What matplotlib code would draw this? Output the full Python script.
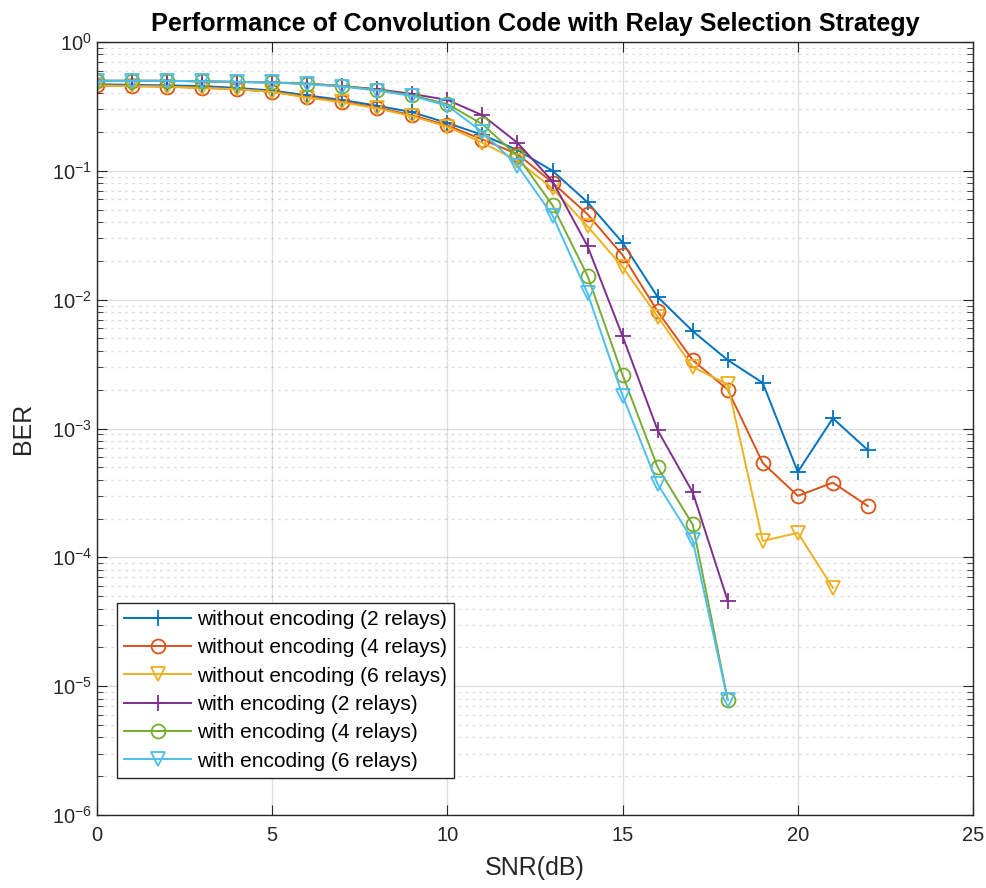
import numpy as np
import matplotlib
matplotlib.use("Agg")
import matplotlib.pyplot as plt
from matplotlib.ticker import LogLocator, NullFormatter, MultipleLocator

plt.rcParams['font.family'] = ['Liberation Sans', 'DejaVu Sans']
plt.rcParams['mathtext.default'] = 'regular'

# BER values
snr_wo2 = list(range(0, 23))
ber_wo2 = [0.47, 0.465, 0.46, 0.455, 0.44, 0.42, 0.385, 0.355, 0.32, 0.285, 0.235, 0.19, 0.145,
           0.10, 0.057, 0.0277, 0.0105, 0.0057, 0.0034, 0.00226, 0.00046, 0.0012, 0.00068]

snr_wo4 = list(range(0, 23))
ber_wo4 = [0.46, 0.455, 0.45, 0.44, 0.43, 0.41, 0.375, 0.345, 0.31, 0.27, 0.225, 0.175, 0.135,
           0.081, 0.046, 0.0222, 0.0081, 0.0034, 0.0020, 0.00054, 0.0003, 0.00038, 0.00025]

snr_wo6 = list(range(0, 22))
ber_wo6 = [0.46, 0.455, 0.45, 0.44, 0.43, 0.41, 0.37, 0.34, 0.305, 0.265, 0.22, 0.165, 0.12,
           0.073, 0.037, 0.018, 0.0074, 0.0030, 0.0022, 0.000134, 0.000155, 5.8e-5]

snr_w2 = list(range(0, 19))
ber_w2 = [0.50, 0.50, 0.50, 0.495, 0.49, 0.485, 0.475, 0.455, 0.43, 0.395, 0.355, 0.27, 0.165,
          0.083, 0.026, 0.0052, 0.00097, 0.00032, 4.6e-5]

snr_w4 = list(range(0, 19))
ber_w4 = [0.50, 0.50, 0.50, 0.495, 0.49, 0.485, 0.475, 0.455, 0.425, 0.385, 0.33, 0.23, 0.13,
          0.054, 0.0153, 0.0026, 0.0005, 0.00018, 7.8e-6]

snr_w6 = list(range(0, 19))
ber_w6 = [0.50, 0.50, 0.50, 0.495, 0.49, 0.485, 0.47, 0.45, 0.42, 0.38, 0.32, 0.20, 0.11,
          0.045, 0.0112, 0.0018, 0.00037, 0.000136, 7.8e-6]

labels = ["without encoding (2 relays)", "without encoding (4 relays)",
          "without encoding (6 relays)", "with encoding (2 relays)",
          "with encoding (4 relays)", "with encoding (6 relays)"]
colors = ['#0072BD', '#D95319', '#EDB120', '#7E2F8E', '#77AC30', '#4DBEEE']
markers = ['+', 'o', 'v', '+', 'o', 'v']

series = [(snr_wo2, ber_wo2), (snr_wo4, ber_wo4), (snr_wo6, ber_wo6),
          (snr_w2, ber_w2), (snr_w4, ber_w4), (snr_w6, ber_w6)]

fig = plt.figure(figsize=(9.87, 8.88), dpi=100)
ax = fig.add_axes([0.0983, 0.0822, 0.8875, 0.8705])

for (x, y), lab, c, m in zip(series, labels, colors, markers):
    ms = 12 if m == '+' else 10
    ax.semilogy(x, y, color=c, marker=m, markersize=ms, markerfacecolor='none',
                markeredgewidth=1.3, linewidth=1.4, label=lab)

ax.set_xlim(0, 25)
ax.set_ylim(1e-6, 1)
ax.xaxis.set_major_locator(MultipleLocator(5))
ax.yaxis.set_major_locator(LogLocator(base=10, numticks=10))
ax.yaxis.set_minor_locator(LogLocator(base=10, subs=np.arange(2, 10), numticks=20))
ax.yaxis.set_minor_formatter(NullFormatter())

ax.grid(True, which='major', color='#262626', alpha=0.15, linewidth=1.0, linestyle='-')
ax.grid(True, which='minor', axis='y', color='#262626', alpha=0.15, linewidth=1.0, linestyle=(0, (2, 3)))
ax.set_axisbelow(True)

ax.tick_params(which='both', direction='in', top=True, right=True, colors='#262626',
               labelsize=14.5)
ax.tick_params(axis='x', pad=8)
ax.tick_params(which='major', length=7)
ax.tick_params(which='minor', length=4)
for sp in ax.spines.values():
    sp.set_color('#262626')
    sp.set_linewidth(1.0)

ax.set_xlabel("SNR(dB)", fontsize=18, color='#262626', labelpad=8)
ax.set_ylabel("BER", fontsize=18, color='#262626', labelpad=12)
ax.set_title("Performance of Convolution Code with Relay Selection Strategy",
             fontsize=18.2, fontweight='bold', color='black', pad=8)

leg = ax.legend(loc='lower left', bbox_to_anchor=(0.0228, 0.0479), borderaxespad=0,
                fontsize=15, fancybox=False, framealpha=1, edgecolor='#262626',
                handlelength=3.2, handletextpad=0.3, labelspacing=0.45,
                borderpad=0.35)
leg.get_frame().set_linewidth(1.0)

fig.savefig("out.png", dpi=100)
